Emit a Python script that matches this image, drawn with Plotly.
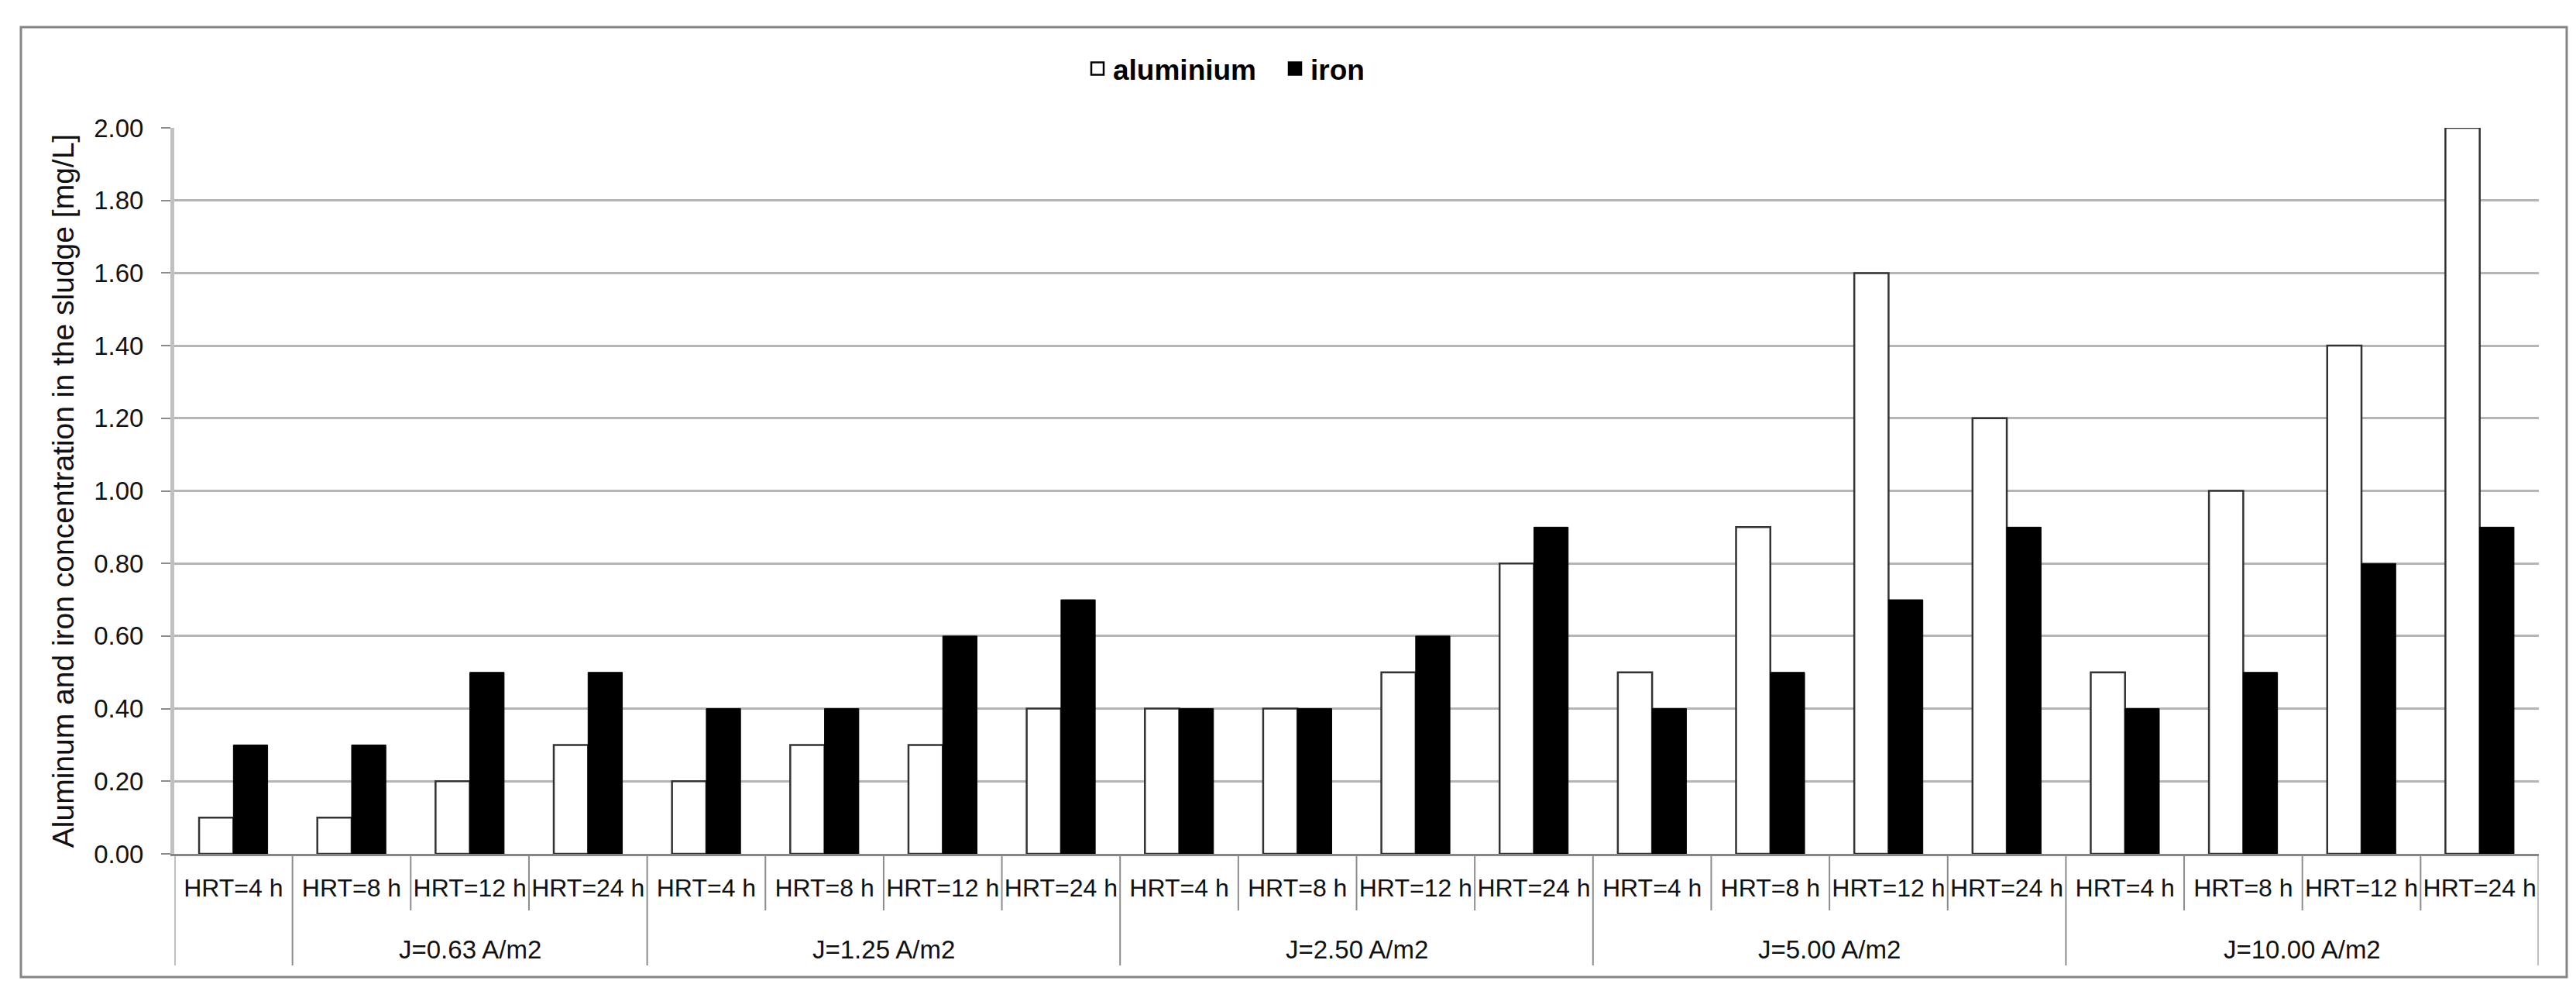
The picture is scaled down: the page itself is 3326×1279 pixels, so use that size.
import plotly.graph_objects as go

# ---- data ----
hrt_labels = ["HRT=4 h", "HRT=8 h", "HRT=12 h", "HRT=24 h"] * 5
group_labels = ["", "J=0.63 A/m2", "J=1.25 A/m2", "J=2.50 A/m2", "J=5.00 A/m2", "J=10.00 A/m2"]
group_sizes = [1, 3, 4, 4, 4, 4]
aluminium = [0.1, 0.1, 0.2, 0.3, 0.2, 0.3, 0.3, 0.4, 0.4, 0.4, 0.5, 0.8, 0.5, 0.9, 1.6, 1.2, 0.5, 1.0, 1.4, 2.0]
iron = [0.3, 0.3, 0.5, 0.5, 0.4, 0.4, 0.6, 0.7, 0.4, 0.4, 0.6, 0.9, 0.4, 0.5, 0.7, 0.9, 0.4, 0.5, 0.8, 0.9]
y_ticks = [0.0, 0.2, 0.4, 0.6, 0.8, 1.0, 1.2, 1.4, 1.6, 1.8, 2.0]

W, H = 3326, 1279
L, R, T, B = 217, 56, 157, 185
pw, ph = W - L - R, H - T - B

FONT = "Liberation Sans, Arial, sans-serif"
x = list(range(len(aluminium)))

fig = go.Figure()
fig.add_trace(go.Bar(x=x, y=aluminium, name="aluminium", showlegend=False,
                     marker=dict(color="white", line=dict(color="#333333", width=2.5))))
fig.add_trace(go.Bar(x=x, y=iron, name="iron", showlegend=False,
                     marker=dict(color="black", line=dict(color="black", width=1))))
# legend entries
fig.add_trace(go.Scatter(x=[None], y=[None], mode="markers", name="aluminium",
                         marker=dict(symbol="square", size=16, color="white",
                                     line=dict(color="black", width=2.5))))
fig.add_trace(go.Scatter(x=[None], y=[None], mode="markers", name="iron",
                         marker=dict(symbol="square", size=16, color="black",
                                     line=dict(color="black", width=2.5))))

shapes = []
short_y = -(1167 - 1094) / ph
long_y = -(1238 - 1094) / ph
boundaries = set()
acc = 0
for s in group_sizes:
    boundaries.add(acc)
    acc += s
boundaries.add(acc)
n = len(x)
for i in range(n + 1):
    xb = i - 0.5
    is_long = i in boundaries
    edge = i == 0 or i == n
    shapes.append(dict(type="line", xref="x", yref="paper", x0=xb, x1=xb, y0=0,
                       y1=long_y if is_long else short_y,
                       line=dict(color="#c0c0c0" if edge else "#8c8c8c", width=4 if edge else 2),
                       layer="below"))

# outer border
shapes.append(dict(type="rect", xref="paper", yref="paper",
                   x0=(19 - L) / pw, x1=(3306 - L) / pw,
                   y0=-(1253 - 1094) / ph, y1=1 + (T - 27) / ph,
                   line=dict(color="#858585", width=3), fillcolor="rgba(0,0,0,0)"))

annotations = []
acc = 0
for g, s in zip(group_labels, group_sizes):
    center = acc + (s - 1) / 2
    if g:
        annotations.append(dict(x=center, y=-(1217 - 1094) / ph, xref="x", yref="paper",
                                text=g, showarrow=False, yanchor="middle",
                                font=dict(family=FONT, size=33, color="#111111")))
    acc += s

fig.update_layout(
    width=W, height=H,
    margin=dict(l=L, r=R, t=T, b=B, autoexpand=False),
    paper_bgcolor="white", plot_bgcolor="white",
    barmode="group", bargap=0.42, bargroupgap=0,
    font=dict(family=FONT, size=30, color="#111111"),
    shapes=shapes, annotations=annotations,
    legend=dict(orientation="h", x=(1389 - L) / pw, xanchor="left",
                y=1 + (T - 81) / ph, yanchor="middle",
                font=dict(family=FONT, size=37, color="black", weight="bold"),
                itemwidth=30, entrywidth=210, tracegroupgap=0, bgcolor="rgba(0,0,0,0)"),
    xaxis=dict(range=[-0.5, n - 0.5], tickmode="array", tickvals=x, ticktext=hrt_labels,
               showgrid=False, zeroline=False, showline=True, linecolor="#868686", linewidth=3,
               ticks="", ticklabelstandoff=14,
               tickfont=dict(family=FONT, size=32, color="#111111")),
    yaxis=dict(range=[0, 2.0], tickmode="array", tickvals=y_ticks,
               ticktext=[f"{v:.2f}" for v in y_ticks],
               showgrid=True, gridcolor="#b5b5b5", gridwidth=3, zeroline=False,
               showline=True, linecolor="#c0c0c0", linewidth=5,
               ticks="outside", ticklen=12, tickwidth=2, tickcolor="#8c8c8c",
               ticklabelstandoff=16,
               tickfont=dict(family=FONT, size=33, color="#111111"),
               title=dict(text="Aluminum and iron concentration in the sludge [mg/L]",
                          font=dict(family=FONT, size=39, color="#111111"), standoff=15)),
)

fig.write_html("out.html")
